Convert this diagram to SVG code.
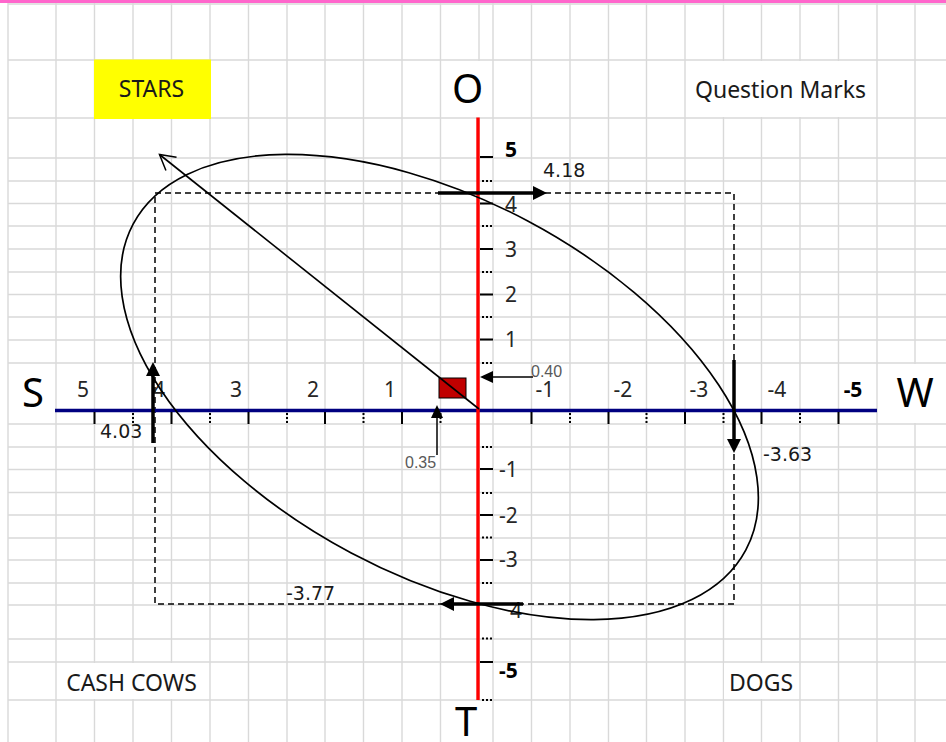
<svg xmlns="http://www.w3.org/2000/svg" width="946" height="742" viewBox="0 0 946 742">
<style>
.grid{stroke:#d9d9d9;stroke-width:1.4;fill:none}
.lbl{font-family:"Noto Sans","Open Sans",sans-serif;font-size:23px;fill:#1a1a1a;text-anchor:middle}
.big{font-family:"Noto Sans","Open Sans",sans-serif;font-size:40px;fill:#000;text-anchor:middle}
.tk{font-family:"Noto Sans","Open Sans",sans-serif;font-size:21px;fill:#262626}
.tx{text-anchor:middle}
.bd{font-weight:bold;fill:#000}
.val{font-family:"DejaVu Sans",sans-serif;font-size:19px;fill:#1a1a1a}
.small{font-family:"Liberation Sans",Arial,sans-serif;font-size:16px;fill:#595959}
.thick{stroke:#000;stroke-width:3.5;fill:none;marker-end:url(#ah)}
.thin{stroke:#000;stroke-width:1.5;fill:none;marker-end:url(#ahs)}
.st{stroke:#000;stroke-width:2;fill:none}
.dt{stroke:#000;stroke-width:2;stroke-dasharray:2 2;fill:none}
.wbox{fill:#fff}
</style>
<defs>
<marker id="ah" viewBox="0 0 14 14" refX="10" refY="7" markerWidth="14" markerHeight="14" markerUnits="userSpaceOnUse" orient="auto">
<path d="M0,0 L14,7 L0,14 z" fill="#000"/>
</marker>
<marker id="ahs" viewBox="0 0 13 12" refX="11" refY="6" markerWidth="13" markerHeight="12" markerUnits="userSpaceOnUse" orient="auto">
<path d="M0,0 L13,6 L0,12 z" fill="#000"/>
</marker>
<marker id="open" viewBox="-17 -10 19 20" refX="0" refY="0" markerWidth="19" markerHeight="20" markerUnits="userSpaceOnUse" orient="auto">
<path d="M-15,-8.5 L0,0 L-15,8.5" fill="none" stroke="#000" stroke-width="1.5"/>
</marker>
</defs>

<rect x="0" y="0" width="946" height="742" fill="#fff"/>

<g id="grid">
<path class="grid" d="M8,3V742 M56,3V742 M94.5,3V742 M133,3V742 M171.5,3V742 M210,3V742 M248.5,3V742 M287,3V742 M325,3V742 M363.5,3V742 M402,3V742 M440.5,3V742 M479,3V742 M493,3V742 M531.5,3V742 M570,3V742 M608.5,3V742 M646.5,3V742 M685,3V742 M723.5,3V742 M761.5,3V742 M800,3V742 M838.5,3V742 M877,3V742 M915,3V742"/>
<path class="grid" d="M8,4H946 M8,60H946 M8,118H946 M8,158H946 M8,181H946 M8,203.5H946 M8,226H946 M8,249H946 M8,272H946 M8,294.5H946 M8,317H946 M8,340H946 M8,363H946 M8,424H946 M8,447H946 M8,469.5H946 M8,492.5H946 M8,515H946 M8,538H946 M8,560H946 M8,583H946 M8,605H946 M8,639H946 M8,662H946 M8,700H946"/>
<rect x="0" y="0" width="946" height="3" fill="#ff66cc"/>
<rect class="wbox" x="686" y="61" width="190" height="56"/>
<rect class="wbox" x="442" y="61" width="50" height="56"/>
<rect class="wbox" x="442" y="701" width="50" height="41"/>
<rect class="wbox" x="878" y="364" width="68" height="59"/>
<rect class="wbox" x="57" y="663" width="152" height="36"/>
<rect class="wbox" x="724" y="663" width="75" height="36"/>
</g>

<g id="stars">
<rect x="94" y="59.5" width="117" height="59.5" fill="#ffff00"/>
<text class="lbl" x="151.5" y="97">STARS</text>
</g>
<g id="question-marks"><text class="lbl" x="780.5" y="98">Question Marks</text></g>
<g id="cash-cows"><text class="lbl" x="131.5" y="691">CASH COWS</text></g>
<g id="dogs"><text class="lbl" x="761" y="691">DOGS</text></g>

<g id="axis-letters">
<text class="big" x="33" y="407">S</text>
<text class="big" x="467.5" y="103">O</text>
<text class="big" x="915" y="407">W</text>
<text class="big" x="466" y="736">T</text>
</g>

<g id="dashed-box">
<rect x="155" y="193" width="579" height="411" fill="none" stroke="#000" stroke-width="1.5" stroke-dasharray="6 4"/>
</g>

<g id="axes">
<line x1="55" y1="410.5" x2="877" y2="410.5" stroke="#000080" stroke-width="3.5"/>
<path class="st" d="M94.5,412V424 M171.5,412V424 M248.5,412V424 M325,412V424 M402,412V424 M531.5,412V424 M608.5,412V424 M685,412V424 M761.5,412V424 M838.5,412V424"/>
<path class="dt" d="M133,413V423 M210,413V423 M287,413V423 M363.5,413V423 M440.5,413V423 M570,413V423 M646.5,413V423 M723.5,413V423 M800,413V423"/>
<path class="st" d="M480,157H493 M480,203.5H493 M480,249H493 M480,294.5H493 M480,339.5H493 M480,469H493 M480,515H493 M480,560H493 M480,604H493 M480,662H493"/>
<path class="dt" d="M482,181H492 M482,226H492 M482,272H492 M482,317H492 M482,363H492 M482,447H492 M482,493H492 M482,537.5H492 M482,583H492 M482,638.5H492 M482,700H492"/>
<line x1="478" y1="117.5" x2="478" y2="700" stroke="#ff0000" stroke-width="3.4"/>
</g>

<g id="tick-labels">
<text class="tk tx" x="83" y="397">5</text>
<text class="tk tx" x="159" y="397">4</text>
<text class="tk tx" x="236" y="397">3</text>
<text class="tk tx" x="313" y="397">2</text>
<text class="tk tx" x="390" y="397">1</text>
<text class="tk tx" x="545" y="397">-1</text>
<text class="tk tx" x="623" y="397">-2</text>
<text class="tk tx" x="699" y="397">-3</text>
<text class="tk tx" x="777" y="397">-4</text>
<text class="tk tx bd" x="853" y="397">-5</text>
<text class="tk bd" x="505" y="157">5</text>
<text class="tk" x="505" y="212">4</text>
<text class="tk" x="505" y="257">3</text>
<text class="tk" x="505" y="302">2</text>
<text class="tk" x="505" y="347">1</text>
<text class="tk" x="499" y="477">-1</text>
<text class="tk" x="499" y="523">-2</text>
<text class="tk" x="499" y="567">-3</text>
<text class="tk" x="510" y="618">4</text>
<text class="tk bd" x="499" y="678">-5</text>
</g>

<g id="ellipse">
<ellipse cx="439.5" cy="387" rx="347" ry="188" transform="rotate(28 439.5 387)" fill="none" stroke="#000" stroke-width="1.7"/>
</g>

<g id="position-point">
<rect x="439" y="378" width="27" height="20" fill="#c00000" stroke="#000" stroke-width="1"/>
</g>

<g id="connectors">
<line x1="479" y1="409" x2="159.5" y2="154.5" stroke="#000" stroke-width="1.6" marker-end="url(#open)"/>
<line class="thick" x1="438" y1="193" x2="543" y2="193"/>
<line class="thick" x1="734" y1="360" x2="734" y2="449"/>
<line class="thick" x1="153" y1="443" x2="153" y2="366"/>
<line class="thick" x1="523" y1="604" x2="444" y2="604"/>
<line class="thin" x1="533" y1="377" x2="482" y2="377"/>
<line class="thin" x1="437" y1="455" x2="437" y2="407"/>
</g>

<g id="value-labels">
<text class="val" x="543" y="177">4.18</text>
<text class="val" x="100" y="438">4.03</text>
<text class="val" x="763" y="461">-3.63</text>
<text class="val" x="286" y="600">-3.77</text>
<text class="small" x="531" y="377">0.40</text>
<text class="small" x="405" y="468">0.35</text>
</g>
</svg>
